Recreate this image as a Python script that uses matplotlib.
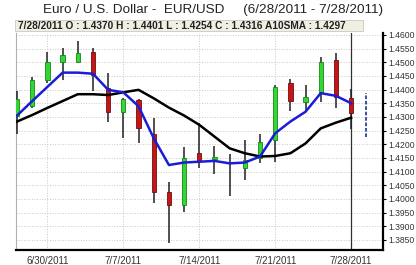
import matplotlib
matplotlib.use("Agg")
import matplotlib.pyplot as plt
from matplotlib.patches import Rectangle
import numpy as np

plt.rcParams['font.family'] = ['Liberation Sans', 'DejaVu Sans']

# daily EUR/USD candles, 6/28/2011 .. 7/28/2011 (weekdays)
dates = ['6/28/2011', '6/29/2011', '6/30/2011', '7/1/2011', '7/4/2011', '7/5/2011',
         '7/6/2011', '7/7/2011', '7/8/2011', '7/11/2011', '7/12/2011', '7/13/2011',
         '7/14/2011', '7/15/2011', '7/18/2011', '7/19/2011', '7/20/2011', '7/21/2011',
         '7/22/2011', '7/25/2011', '7/26/2011', '7/27/2011', '7/28/2011']
opens = [1.4305, 1.4341, 1.4435, 1.4502, 1.4502, 1.4539, 1.4405, 1.4319, 1.4362, 1.4236,
         1.4027, 1.3978, 1.4167, 1.4146, 1.4130, 1.4114, 1.4148, 1.4216, 1.4425, 1.4354,
         1.4390, 1.4508, 1.4370]
highs = [1.4395, 1.4447, 1.4537, 1.4551, 1.4576, 1.4551, 1.4462, 1.4368, 1.4366, 1.4297,
         1.4061, 1.4191, 1.4277, 1.4195, 1.4163, 1.4216, 1.4236, 1.4417, 1.4439, 1.4417,
         1.4521, 1.4533, 1.4401]
lows = [1.4236, 1.4332, 1.4423, 1.4435, 1.4496, 1.4395, 1.4283, 1.4222, 1.4204, 1.3984,
        1.3837, 1.3951, 1.4114, 1.4091, 1.4012, 1.4069, 1.4130, 1.4136, 1.4322, 1.4322,
        1.4354, 1.4334, 1.4254]
closes = [1.4366, 1.4435, 1.4502, 1.4527, 1.4533, 1.4454, 1.4319, 1.4366, 1.4258, 1.4027,
          1.3978, 1.4149, 1.4139, 1.4155, 1.4135, 1.4142, 1.4209, 1.4411, 1.4358, 1.4374,
          1.4502, 1.4371, 1.4316]
blue_line = [1.4305, 1.4358, 1.4410, 1.4462, 1.4462, 1.4458, 1.4399, 1.4390, 1.4339, 1.4222,
             1.4124, 1.4133, 1.4136, 1.4139, 1.4130, 1.4133, 1.4155, 1.4240, 1.4283, 1.4319,
             1.4387, 1.4377, 1.4350]
sma10 = [1.4283, 1.4307, 1.4333, 1.4358, 1.4383, 1.4383, 1.4380, 1.4390, 1.4399, 1.4368,
         1.4334, 1.4305, 1.4271, 1.4228, 1.4185, 1.4167, 1.4155, 1.4157, 1.4167, 1.4203,
         1.4258, 1.4279, 1.4297]
proj_range = [1.4228, 1.4387]   # dashed blue bar after last candle

tick_idx = [2, 7, 12, 17, 22]
yticks = np.arange(1.3850, 1.46001, 0.005)

fig = plt.figure(figsize=(4.16, 2.65), dpi=100)
ax = fig.add_axes([16/416, 1 - 250/265, (383 - 16)/416, (250 - 33)/265])

x = np.arange(len(dates))
o = np.array(opens); c = np.array(closes)
up = c >= o
ax.vlines(x, lows, highs, color='#202020', lw=1.1, zorder=3)
ax.bar(x[up], (c - o)[up], bottom=o[up], width=0.28, color='#33d633',
       edgecolor='#138813', lw=0.6, zorder=4)
ax.bar(x[~up], (o - c)[~up], bottom=c[~up], width=0.28, color='#c81414',
       edgecolor='#6a1010', lw=0.6, zorder=4)

ax.plot(x, sma10, color='black', lw=1.8, zorder=5)
ax.plot(x, blue_line, color='#1c1cd8', lw=1.8, zorder=6)
ax.vlines(len(dates), proj_range[0], proj_range[1], color='#2a3f9a', lw=1.3,
          linestyles=(0, (2, 1)), zorder=5)
ax.axvline(22, color='#303030', lw=0.9, zorder=2)

ax.set_xlim(-0.07, 24.1)
ax.set_ylim(1.3813, 1.4607)
ax.set_xticks(tick_idx)
ax.set_xticklabels([dates[i] for i in tick_idx], fontsize=7, color='#333333')
ax.set_yticks(yticks)
ax.set_yticklabels(['%.4f' % v for v in yticks], fontsize=6.2, color='#333333')
ax.yaxis.tick_right()
ax.tick_params(axis='y', length=2, pad=2, width=0.8)
ax.tick_params(axis='x', length=0, pad=4)
ax.grid(True, color='#c8c8c8', ls=':', lw=0.7)
ax.set_axisbelow(True)

ax.spines['top'].set_visible(False)
ax.spines['left'].set_color('#b0b0b0')
ax.spines['left'].set_linewidth(0.8)
ax.spines['bottom'].set_linewidth(1.6)
ax.spines['right'].set_linewidth(1.6)

# header strip with last values
fig.patches.append(Rectangle((15/416, 1 - 31/265), (363 - 15)/416, 11/265,
                             transform=fig.transFigure, facecolor='#f1eee2',
                             edgecolor='#c8c8c8', lw=0.6, zorder=0))
fig.text(18/416, 1 - 26/265,
         '%s O : %.4f H : %.4f L : %.4f C : %.4f A10SMA : %.4f'
         % (dates[-1], opens[-1], highs[-1], lows[-1], closes[-1], sma10[-1]),
         fontsize=7.3, fontweight='bold', va='center', ha='left', color='#222222')

fig.text(213/416, 1 - 10/265,
         'Euro / U.S. Dollar -  EUR/USD     (6/28/2011 - 7/28/2011)',
         fontsize=9.7, ha='center', va='center', color='#222222')

fig.savefig('out.png', dpi=100)
